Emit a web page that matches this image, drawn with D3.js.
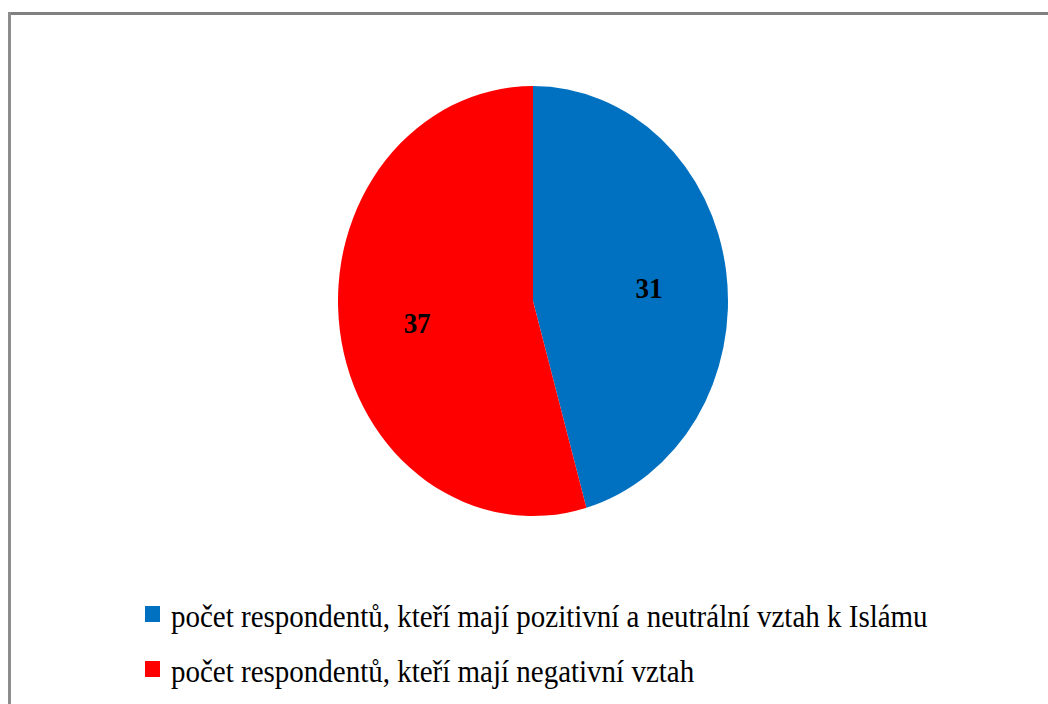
<!DOCTYPE html>
<html>
<head>
<meta charset="utf-8">
<script src="https://cdn.jsdelivr.net/npm/d3@7"></script>
<style>
  body { margin: 0; background: #fff; }
  text { font-family: "Liberation Serif", "DejaVu Serif", serif; }
</style>
</head>
<body>
<script>
// data
const categories = [
  "počet respondentů, kteří mají pozitivní a neutrální vztah k Islámu",
  "počet respondentů, kteří mají negativní vztah"
];
const values = [31, 37];
const colors = ["#0070c0", "#ff0000"];

const width = 1048, height = 704;
const cx = 533, cy = 301, rx = 195, ry = 215;
const stretch = 1.1; // the source image is a little taller than wide

const svg = d3.select("body").append("svg")
    .attr("width", width)
    .attr("height", height);

// frame (top and left edges visible)
svg.append("line").attr("x1", 8).attr("x2", width).attr("y1", 13.5).attr("y2", 13.5)
    .attr("stroke", "#808080").attr("stroke-width", 3);
svg.append("line").attr("x1", 9.5).attr("x2", 9.5).attr("y1", 12).attr("y2", height)
    .attr("stroke", "#8c8c8c").attr("stroke-width", 3);

const pie = d3.pie().sort(null).value(d => d)(values);
const r = 100;
const arc = d3.arc().innerRadius(0).outerRadius(r);

const g = svg.append("g")
    .attr("transform", `translate(${cx},${cy}) scale(${rx / r},${ry / r})`);

g.selectAll("path")
  .data(pie)
  .join("path")
    .attr("d", arc)
    .attr("fill", (d, i) => colors[i]);

// labels, placed along the slice mid angle inside the ellipse
const labelArc = d3.arc().innerRadius(r * 0.6).outerRadius(r * 0.6);
svg.append("g")
  .selectAll("text")
  .data(pie)
  .join("text")
    .attr("transform", d => {
      const [x, y] = labelArc.centroid(d);
      return `translate(${cx + x * rx / r},${cy + 4 + y * ry / r}) scale(1,${stretch})`;
    })
    .attr("dy", "0.35em")
    .attr("text-anchor", "middle")
    .attr("font-size", 27)
    .attr("font-weight", "bold")
    .text(d => d.data);

// legend
const legend = svg.append("g")
  .selectAll("g")
  .data(categories)
  .join("g")
    .attr("transform", (d, i) => `translate(145,${606 + i * 55})`);

legend.append("rect")
    .attr("width", 15).attr("height", 16)
    .attr("fill", (d, i) => colors[i]);

legend.append("text")
    .attr("transform", `translate(26,21) scale(1,${stretch})`)
    .attr("font-size", 29)
    .attr("fill", "#000")
    .text(d => d);
</script>
</body>
</html>
